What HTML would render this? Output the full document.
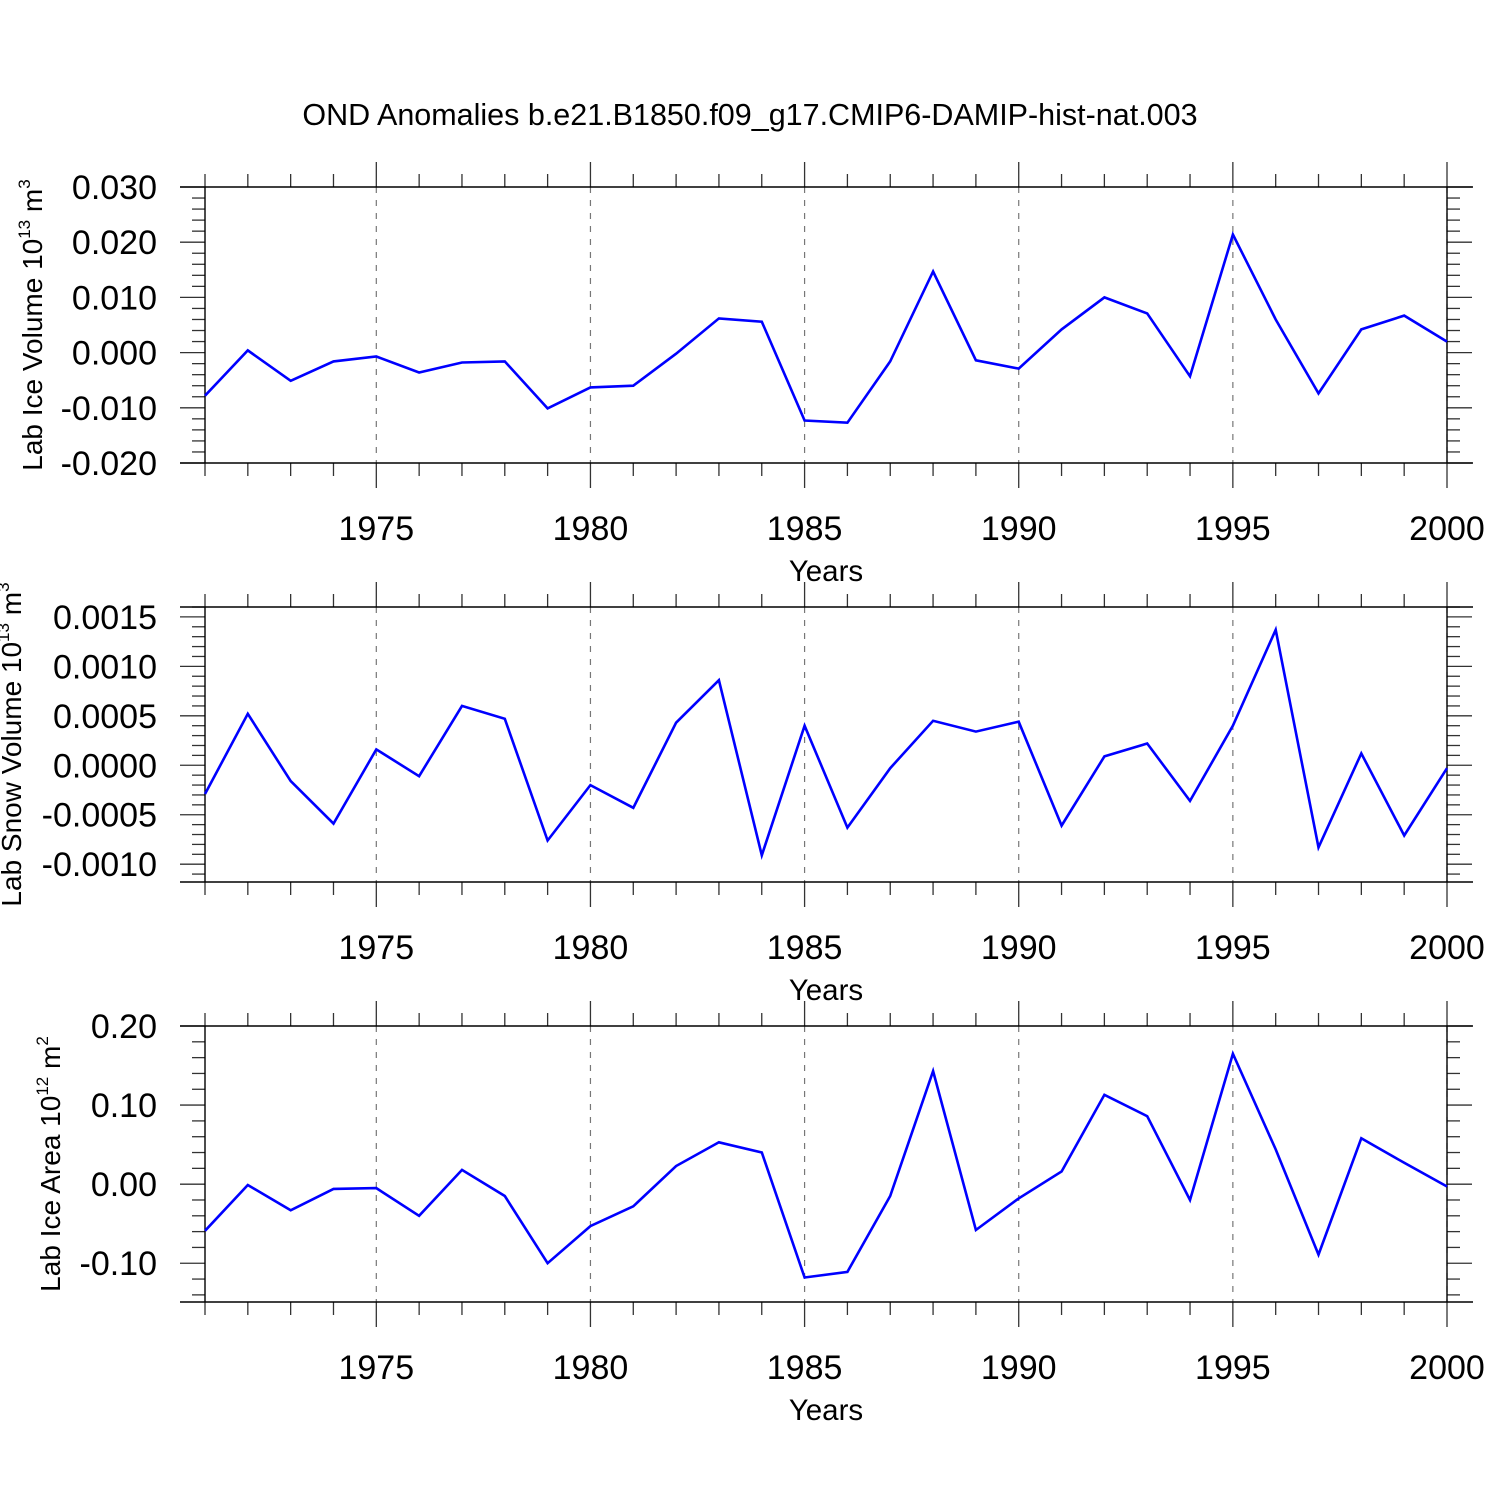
<!DOCTYPE html>
<html><head><meta charset="utf-8"><style>
html,body{margin:0;padding:0;background:#fff;}
svg{display:block;font-family:"Liberation Sans",Arial,sans-serif;}
</style></head><body>
<svg id="chart" width="1500" height="1500" viewBox="0 0 1500 1500">
<text x="750" y="125" text-anchor="middle" font-size="30.5">OND Anomalies b.e21.B1850.f09_g17.CMIP6-DAMIP-hist-nat.003</text>
</svg>
<script>
const years = [1971,1972,1973,1974,1975,1976,1977,1978,1979,1980,1981,1982,1983,1984,1985,1986,1987,1988,1989,1990,1991,1992,1993,1994,1995,1996,1997,1998,1999,2000];
const iceVolume = [-0.0078,0.0004,-0.0051,-0.0016,-0.0007,-0.0036,-0.0018,-0.0016,-0.0101,-0.0063,-0.006,-0.0002,0.0062,0.0056,-0.0123,-0.0127,-0.0016,0.0147,-0.0014,-0.0029,0.0042,0.0100,0.0071,-0.0043,0.0214,0.0060,-0.0074,0.0042,0.0067,0.0020];
const snowVolume = [-0.00029,0.00052,-0.00016,-0.00059,0.00016,-0.00011,0.0006,0.00047,-0.00076,-0.0002,-0.00043,0.00043,0.00086,-0.00091,0.0004,-0.00063,-0.00003,0.00045,0.00034,0.00044,-0.00061,0.00009,0.00022,-0.00036,0.0004,0.00137,-0.00083,0.00012,-0.00071,-0.00003];
const iceArea = [-0.059,-0.001,-0.033,-0.006,-0.005,-0.04,0.018,-0.015,-0.1,-0.053,-0.028,0.023,0.053,0.04,-0.118,-0.111,-0.015,0.143,-0.058,-0.018,0.016,0.113,0.086,-0.02,0.165,0.044,-0.089,0.058,0.027,-0.003];
const xTickLabels = [1975,1980,1985,1990,1995,2000];
const iceVolumeTicks = ["-0.020","-0.010","0.000","0.010","0.020","0.030"];
const snowVolumeTicks = ["-0.0010","-0.0005","0.0000","0.0005","0.0010","0.0015"];
const iceAreaTicks = ["-0.10","0.00","0.10","0.20"];

const NS="http://www.w3.org/2000/svg";
const svg=document.getElementById('chart');
function mk(tag,attrs,parent){const e=document.createElementNS(NS,tag);for(const k in attrs)e.setAttribute(k,attrs[k]);(parent||svg).appendChild(e);return e;}

const X0=205,X1=1447,XMIN=1971,XMAX=2000;
const xs=v=>X0+(v-XMIN)/(XMAX-XMIN)*(X1-X0);

const panels=[
 {key:'ice-volume',top:187,bot:463,ymin:-0.02,ymax:0.03,major:0.01,minor:0.002,ticks:iceVolumeTicks,data:iceVolume,title:['Lab Ice Volume 10','13',' m','3'],tx:42},
 {key:'snow-volume',top:607,bot:882,ymin:-0.00118,ymax:0.0016,major:0.0005,minor:0.0001,ticks:snowVolumeTicks,data:snowVolume,title:['Lab Snow Volume 10','13',' m','3'],tx:21},
 {key:'ice-area',top:1026,bot:1302,ymin:-0.149,ymax:0.2,major:0.1,minor:0.02,ticks:iceAreaTicks,data:iceArea,title:['Lab Ice Area 10','12',' m','2'],tx:60}
];

panels.forEach(p=>{
 const g=mk('g',{});
 
 
 const ys=v=>p.bot-(v-p.ymin)/(p.ymax-p.ymin)*(p.bot-p.top);
 xTickLabels.forEach(y=>{
  const l=mk('line',{x1:xs(y),x2:xs(y),y1:p.top,y2:p.bot,stroke:'#777','stroke-width':1.2,'stroke-dasharray':'6,7'},g);
  
  
 });
 years.forEach(y=>{
  const maj=xTickLabels.includes(y);const len=maj?25:13;const x=xs(y);
  mk('line',{x1:x,x2:x,y1:p.top-len,y2:p.top,stroke:'#333','stroke-width':1.3},g);
  mk('line',{x1:x,x2:x,y1:p.bot,y2:p.bot+len,stroke:'#333','stroke-width':1.3},g);
 });
 const n0=Math.ceil(p.ymin/p.minor-1e-6),n1=Math.floor(p.ymax/p.minor+1e-6);
 for(let i=n0;i<=n1;i++){
  const v=i*p.minor;const r=Math.round(v/p.major*1e6)/1e6;const maj=Math.abs(r-Math.round(r))<1e-4;
  const len=maj?25:13;const y=ys(v);
  mk('line',{x1:X0-len,x2:X0,y1:y,y2:y,stroke:'#333','stroke-width':1.3},g);
  mk('line',{x1:X1,x2:X1+len,y1:y,y2:y,stroke:'#333','stroke-width':1.3},g);
 }
 mk('line',{x1:180,x2:1473,y1:p.top,y2:p.top,stroke:'#000','stroke-width':1.4},g);
 mk('line',{x1:180,x2:1473,y1:p.bot,y2:p.bot,stroke:'#000','stroke-width':1.4},g);
 mk('line',{x1:X0,x2:X0,y1:p.top,y2:p.bot,stroke:'#000','stroke-width':1.4},g);
 mk('line',{x1:X1,x2:X1,y1:p.top,y2:p.bot,stroke:'#000','stroke-width':1.4},g);
 p.ticks.forEach(t=>{
  const e=mk('text',{x:157,y:ys(parseFloat(t))+12,'text-anchor':'end','font-size':34},g);
  e.textContent=t;
  
  
 });
 xTickLabels.forEach(t=>{
  const e=mk('text',{x:xs(t),y:p.bot+77,'text-anchor':'middle','font-size':34},g);
  e.textContent=t;
  
  
 });
 const xt=mk('text',{x:826,y:p.bot+118,'text-anchor':'middle','font-size':29.5},g);
 xt.textContent='Years';
 
 
 const cy=(p.top+p.bot)/2;
 const yt=mk('text',{x:0,y:0,'text-anchor':'middle','font-size':28,transform:`translate(${p.tx},${cy}) rotate(-90)`},g);
 
 
 const [a,b,c,d]=p.title;
 const t1=mk('tspan',{},yt);t1.textContent=a;
 const t2=mk('tspan',{dy:-12,'font-size':17},yt);t2.textContent=b;
 const t3=mk('tspan',{dy:12},yt);t3.textContent=c;
 const t4=mk('tspan',{dy:-12,'font-size':17},yt);t4.textContent=d;
 const pts=years.map((y,i)=>xs(y).toFixed(1)+','+ys(p.data[i]).toFixed(1)).join(' ');
 const pl=mk('polyline',{points:pts,fill:'none',stroke:'#0000ff','stroke-width':2.6,'stroke-linejoin':'miter'},g);
 
 
});
</script>
</body></html>
